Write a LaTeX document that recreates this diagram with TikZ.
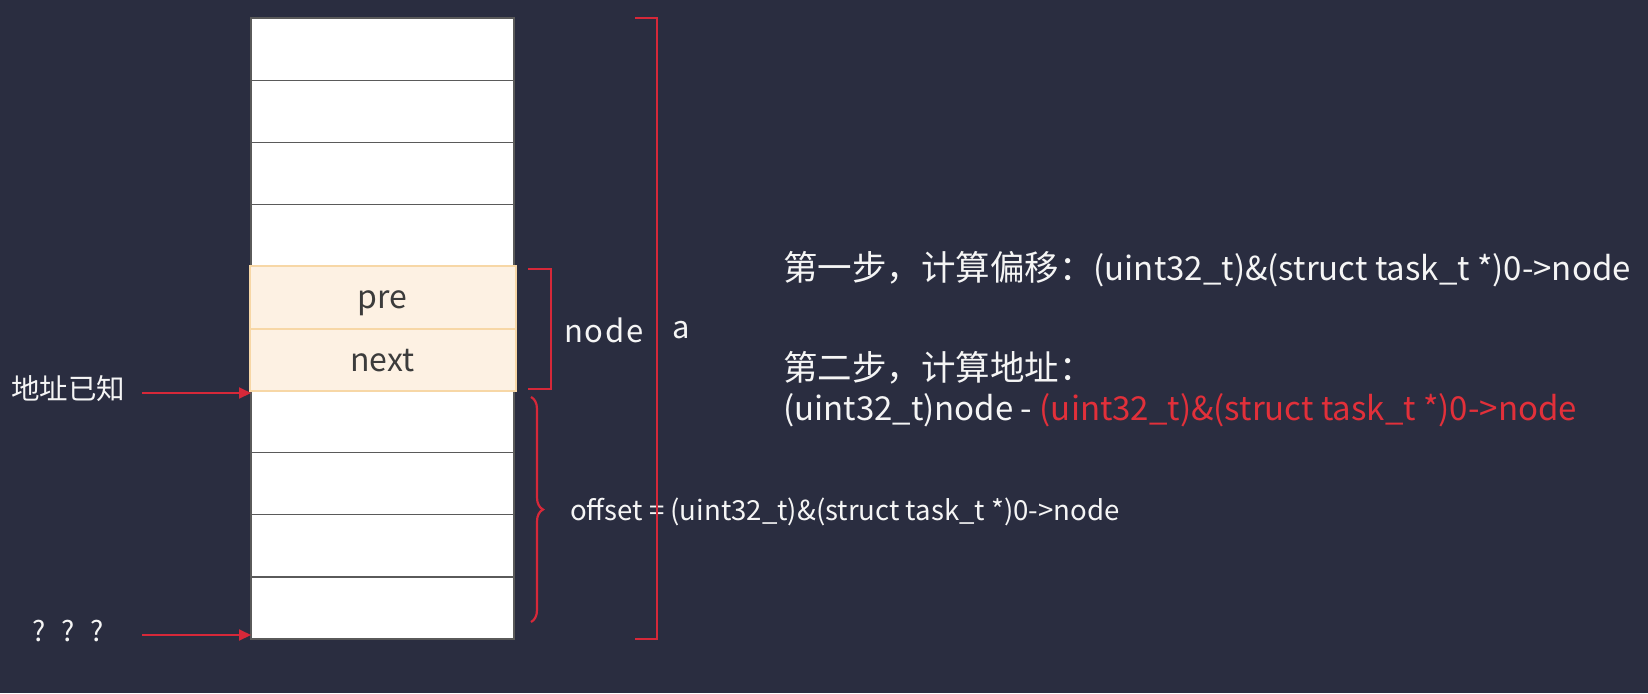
\documentclass[tikz,border=0pt]{standalone}
\usepackage{fontspec}
\setmainfont{Noto Sans CJK SC}
\usetikzlibrary{decorations.pathreplacing,arrows.meta}
\definecolor{bg}{RGB}{42,45,64}
\definecolor{rd}{RGB}{214,40,57}
\definecolor{rdtext}{RGB}{226,48,58}
\definecolor{peach}{RGB}{253,241,227}
\definecolor{peachline}{RGB}{247,215,166}
\definecolor{cellline}{RGB}{90,90,90}
\definecolor{txt}{RGB}{245,245,245}
\definecolor{celltxt}{RGB}{60,60,60}
\newcommand{\cjkpart}[1]{{\fontsize{34.5}{40}\selectfont #1}}
\begin{document}
\begin{tikzpicture}[x=1pt,y=-1pt,
  cell/.style={draw=cellline,fill=white,line width=1.2pt,minimum width=263pt,minimum height=62.1pt,inner sep=0pt,outer sep=0pt,anchor=north west},
  hcell/.style={draw=peachline,fill=peach,line width=2pt,minimum width=266pt,minimum height=62.1pt,inner sep=0pt,outer sep=0pt,anchor=north west,font=\fontsize{32}{36}\selectfont,text=celltxt,text height=27pt,text depth=4pt},
  lab/.style={text=txt,inner sep=0pt},
  redline/.style={draw=rd,line width=2.5pt},
  arr/.style={draw=rd,line width=2pt,-{Triangle[length=12pt,width=11pt]}},
  rtext/.style={lab,anchor=west,font=\fontsize{33}{38}\selectfont}]
\fill[bg] (0,0) rectangle (1648,693);
\useasboundingbox (0,0) rectangle (1648,693);

\foreach \i in {0,1,2,3,6,7,8,9} \node[cell] (c\i) at (251,{18+62.1*\i}) {};
\node[hcell] (c4) at (249.5,{18+62.1*4}) {pre};
\node[hcell] (c5) at (249.5,{18+62.1*5}) {next};

% left labels and arrows
\node[lab,anchor=west,font=\fontsize{28.5}{30}\selectfont] (known) at (11,389) {地址已知};
\coordinate (k1) at (142,393);
\draw[arr] (k1) -- (k1 -| c6.west);
\node[lab,anchor=west,font=\fontsize{28}{30}\selectfont] (unk) at (32,631) {?\hspace{16pt}?\hspace{16pt}?};
\coordinate (k2) at (142,635);
\draw[arr] (k2) -- (k2 -| c9.west);

% node bracket
\draw[redline] (528,269) -- (551,269) -- (551,389) -- (528,389);
\node[lab,font=\fontsize{31}{36}\selectfont\addfontfeature{LetterSpace=6}] (nodelab) at (604,330) {node};
\node[lab,font=\fontsize{31}{36}\selectfont] (alab) at (681,330) {a};

% offset brace
\coordinate (bt) at (531,397);
\coordinate (bb) at (531,622);
\draw[redline,line width=2.2pt,decorate,decoration={brace,amplitude=12pt}] (bt) -- (bb);
\node[lab,anchor=west,font=\fontsize{27.6}{32}\selectfont] (off) at (570,512) {offset = (uint32\_t)\&(struct task\_t *)0->node};

% big bracket
\draw[redline] (635,18) -- (657,18) -- (657,639) -- (635,639);

% right texts
\node[rtext] (s1) at (783,269) {\cjkpart{第一步，计算偏移：}(uint32\_t)\&(struct task\_t *)0->node};
\node[rtext] (s2) at (783,368) {\cjkpart{第二步，计算地址：}};
\node[rtext] (s3) at (783,410) {(uint32\_t)node - \textcolor{rdtext}{(uint32\_t)\&(struct task\_t *)0->node}};
\end{tikzpicture}
\end{document}
